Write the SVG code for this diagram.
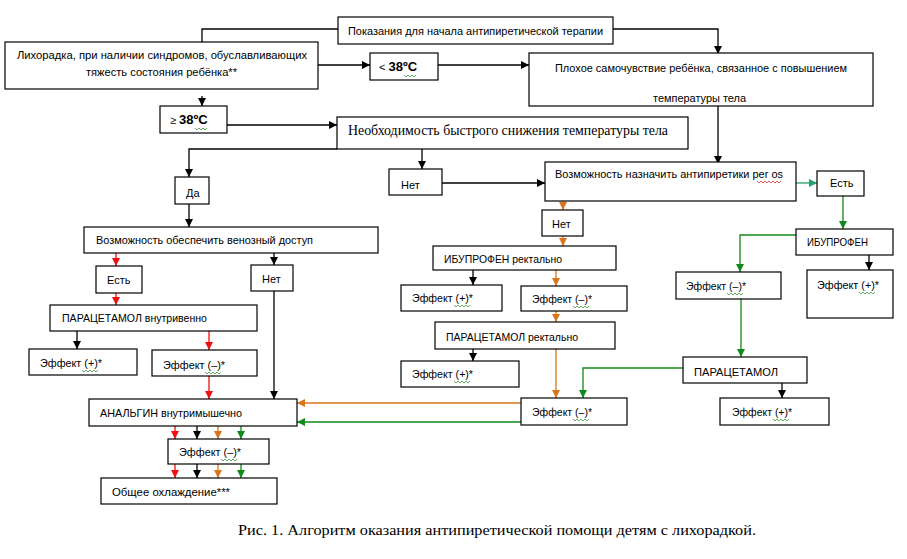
<svg xmlns="http://www.w3.org/2000/svg" width="907" height="559" viewBox="0 0 907 559">
<style>
.b{fill:#fff;stroke:#000;stroke-width:1.2}
.t{font-family:"Liberation Sans",Arial,sans-serif;font-size:11px;fill:#000}
.s{font-family:"Liberation Serif","Times New Roman",serif;fill:#000}
.c{fill:none;stroke-width:1.3}
.k{stroke:#000}
.r{stroke:#f01010}
.o{stroke:#d9761c}
.g{stroke:#12891a}
.tl{stroke:#1fa46e}
.wv{fill:none;stroke-width:0.8}
</style>
<defs>
<marker id="ak" markerUnits="userSpaceOnUse" markerWidth="8" markerHeight="8" refX="8" refY="4" orient="auto"><path d="M0,0L8,4L0,8z" fill="#000"/></marker>
<marker id="ar" markerUnits="userSpaceOnUse" markerWidth="8" markerHeight="8" refX="8" refY="4" orient="auto"><path d="M0,0L8,4L0,8z" fill="#f01010"/></marker>
<marker id="ao" markerUnits="userSpaceOnUse" markerWidth="8" markerHeight="8" refX="8" refY="4" orient="auto"><path d="M0,0L8,4L0,8z" fill="#d9761c"/></marker>
<marker id="ag" markerUnits="userSpaceOnUse" markerWidth="8" markerHeight="8" refX="8" refY="4" orient="auto"><path d="M0,0L8,4L0,8z" fill="#12891a"/></marker>
<marker id="at" markerUnits="userSpaceOnUse" markerWidth="8" markerHeight="8" refX="8" refY="4" orient="auto"><path d="M0,0L8,4L0,8z" fill="#1fa46e"/></marker>
</defs>
<rect width="907" height="559" fill="#fff"/>

<g id="connectors">
<path class="c k" marker-end="url(#ak)" d="M338,29H202V51"/>
<path class="c k" marker-end="url(#ak)" d="M613,29H718V54"/>
<path class="c k" marker-end="url(#ak)" d="M318,65H370"/>
<path class="c k" marker-end="url(#ak)" d="M438,65H529"/>
<path class="c k" marker-end="url(#ak)" d="M202,96V106"/>
<path class="c k" marker-end="url(#ak)" d="M227,125H337"/>
<path class="c k" marker-end="url(#ak)" d="M337,149H189V177"/>
<path class="c k" marker-end="url(#ak)" d="M189,204V227"/>
<path class="c k" marker-end="url(#ak)" d="M274,253V265"/>
<path class="c k" marker-end="url(#ak)" d="M274,291V399"/>
<path class="c k" marker-end="url(#ak)" d="M77,331V349"/>
<path class="c k" marker-end="url(#ak)" d="M718,100V164"/>
<path class="c k" marker-end="url(#ak)" d="M422,149V169"/>
<path class="c k" marker-end="url(#ak)" d="M442,183H545"/>
<path class="c k" marker-end="url(#ak)" d="M869,255V270"/>
<path class="c k" marker-end="url(#ak)" d="M473,270V285"/>
<path class="c k" marker-end="url(#ak)" d="M473,349V361"/>
<path class="c k" marker-end="url(#ak)" d="M782,383V398"/>
<path class="c k" marker-end="url(#ak)" d="M197,426V439"/>
<path class="c k" marker-end="url(#ak)" d="M197,464V478"/>

<path class="c r" marker-end="url(#ar)" d="M116,253V266"/>
<path class="c r" marker-end="url(#ar)" d="M116,293V305"/>
<path class="c r" marker-end="url(#ar)" d="M209,331V350"/>
<path class="c r" marker-end="url(#ar)" d="M209,376V399"/>
<path class="c r" marker-end="url(#ar)" d="M175,426V439"/>
<path class="c r" marker-end="url(#ar)" d="M175,464V478"/>

<path class="c o" marker-end="url(#ao)" d="M563,201V210"/>
<path class="c o" marker-end="url(#ao)" d="M563,236V246"/>
<path class="c o" marker-end="url(#ao)" d="M556,270V286"/>
<path class="c o" marker-end="url(#ao)" d="M556,311V322"/>
<path class="c o" marker-end="url(#ao)" d="M556,349V398"/>
<path class="c o" marker-end="url(#ao)" d="M521,403H297"/>
<path class="c o" marker-end="url(#ao)" d="M218,426V439"/>
<path class="c o" marker-end="url(#ao)" d="M218,464V478"/>

<path class="c tl" marker-end="url(#at)" d="M796,183H817"/>
<path class="c g" marker-end="url(#ag)" d="M843,196V229"/>
<path class="c g" marker-end="url(#ag)" d="M796,235H740V272"/>
<path class="c g" marker-end="url(#ag)" d="M741,299V357"/>
<path class="c g" marker-end="url(#ag)" d="M683,368H583V398"/>
<path class="c g" marker-end="url(#ag)" d="M521,422H297"/>
<path class="c g" marker-end="url(#ag)" d="M241,426V439"/>
<path class="c g" marker-end="url(#ag)" d="M241,464V478"/>
</g>

<g id="n-pokaz"><rect class="b" x="338" y="17" width="275" height="27"/><text class="t" x="348" y="35" textLength="255" lengthAdjust="spacingAndGlyphs">Показания для начала антипиретической терапии</text></g>
<g id="n-lihor"><rect class="b" x="5" y="42" width="313" height="47"/><text class="t" x="17" y="59" textLength="290" lengthAdjust="spacingAndGlyphs">Лихорадка, при наличии синдромов, обуславливающих</text><text class="t" x="86" y="76" textLength="151" lengthAdjust="spacingAndGlyphs">тяжесть состояния ребёнка**</text></g>
<g id="n-lt38"><rect class="b" x="370" y="53" width="68" height="27"/><text class="t" x="379" y="71">&lt; <tspan font-weight="bold" font-size="13">38ºC</tspan></text><path class="wv" stroke="#3a9a3a" d="M404,75l2,2l2,-2l2,2l2,-2l2,2l2,-2"/></g>
<g id="n-ploh"><rect class="b" x="529" y="53" width="344" height="53"/><text class="t" x="555" y="72" textLength="292" lengthAdjust="spacingAndGlyphs">Плохое самочувствие ребёнка, связанное с повышением</text><text class="t" x="653" y="102" textLength="93" lengthAdjust="spacingAndGlyphs">температуры тела</text></g>
<g id="n-ge38"><rect class="b" x="160" y="106" width="67" height="27"/><text class="t" x="170" y="124">≥ <tspan font-weight="bold" font-size="13">38ºC</tspan></text><path class="wv" stroke="#3a9a3a" d="M195,128l2,2l2,-2l2,2l2,-2l2,2l2,-2"/></g>
<g id="n-neobh"><rect class="b" x="337" y="117" width="351" height="32"/><text class="s" x="348" y="135" font-size="15" textLength="320" lengthAdjust="spacingAndGlyphs">Необходимость быстрого снижения температуры тела</text></g>
<g id="n-da"><rect class="b" x="175" y="177" width="34" height="27"/><text class="t" x="186" y="197">Да</text></g>
<g id="n-venoz"><rect class="b" x="84" y="227" width="294" height="26"/><text class="t" x="96" y="244" textLength="217" lengthAdjust="spacingAndGlyphs">Возможность обеспечить венозный доступ</text></g>
<g id="n-est1"><rect class="b" x="96" y="266" width="46" height="27"/><text class="t" x="107" y="284">Есть</text></g>
<g id="n-net1"><rect class="b" x="251" y="265" width="42" height="26"/><text class="t" x="262" y="283">Нет</text></g>
<g id="n-pariv"><rect class="b" x="50" y="305" width="207" height="26"/><text class="t" x="62" y="322" textLength="145" lengthAdjust="spacingAndGlyphs">ПАРАЦЕТАМОЛ внутривенно</text></g>
<g id="n-eff1p"><rect class="b" x="29" y="349" width="108" height="26"/><text class="t" x="40" y="367" textLength="62" lengthAdjust="spacingAndGlyphs">Эффект (+)*</text><path class="wv" stroke="#3a9a3a" d="M82,370l2,2l2,-2l2,2l2,-2l2,2l2,-2l2,2l2,-2"/></g>
<g id="n-eff1m"><rect class="b" x="152" y="350" width="105" height="26"/><text class="t" x="163" y="369" textLength="62" lengthAdjust="spacingAndGlyphs">Эффект (–)*</text><path class="wv" stroke="#3a9a3a" d="M205,372l2,2l2,-2l2,2l2,-2l2,2l2,-2l2,2l2,-2"/></g>
<g id="n-analg"><rect class="b" x="89" y="399" width="208" height="27"/><text class="t" x="100" y="417" textLength="142" lengthAdjust="spacingAndGlyphs">АНАЛЬГИН внутримышечно</text></g>
<g id="n-eff2m"><rect class="b" x="168" y="439" width="101" height="25"/><text class="t" x="179" y="456" textLength="62" lengthAdjust="spacingAndGlyphs">Эффект (–)*</text><path class="wv" stroke="#3a9a3a" d="M221,459l2,2l2,-2l2,2l2,-2l2,2l2,-2l2,2l2,-2"/></g>
<g id="n-cool"><rect class="b" x="101" y="478" width="176" height="26"/><text class="t" x="112" y="496" textLength="118" lengthAdjust="spacingAndGlyphs">Общее охлаждение***</text></g>
<g id="n-net2"><rect class="b" x="389" y="169" width="53" height="26"/><text class="t" x="401" y="189">Нет</text></g>
<g id="n-peros"><rect class="b" x="545" y="162" width="251" height="39"/><text class="t" x="555" y="178" textLength="228" lengthAdjust="spacingAndGlyphs">Возможность назначить антипиретики per os</text><path class="wv" stroke="#e03030" d="M757,181l2,2l2,-2l2,2l2,-2l2,2l2,-2l2,2l2,-2l2,2l2,-2l2,2l2,-2"/></g>
<g id="n-est2"><rect class="b" x="817" y="171" width="47" height="25"/><text class="t" x="830" y="187">Есть</text></g>
<g id="n-net3"><rect class="b" x="542" y="210" width="41" height="26"/><text class="t" x="552" y="228">Нет</text></g>
<g id="n-ibur"><rect class="b" x="433" y="246" width="183" height="24"/><text class="t" x="444" y="263" textLength="118" lengthAdjust="spacingAndGlyphs">ИБУПРОФЕН ректально</text></g>
<g id="n-ibu"><rect class="b" x="796" y="229" width="97" height="26"/><text class="t" x="807" y="246" textLength="61" lengthAdjust="spacingAndGlyphs">ИБУПРОФЕН</text></g>
<g id="n-eff3p"><rect class="b" x="401" y="285" width="101" height="26"/><text class="t" x="412" y="302" textLength="61" lengthAdjust="spacingAndGlyphs">Эффект (+)*</text><path class="wv" stroke="#3a9a3a" d="M454,305l2,2l2,-2l2,2l2,-2l2,2l2,-2l2,2l2,-2"/></g>
<g id="n-eff3m"><rect class="b" x="521" y="286" width="106" height="25"/><text class="t" x="532" y="303" textLength="60" lengthAdjust="spacingAndGlyphs">Эффект (–)*</text><path class="wv" stroke="#3a9a3a" d="M573,306l2,2l2,-2l2,2l2,-2l2,2l2,-2l2,2l2,-2"/></g>
<g id="n-eff4m"><rect class="b" x="676" y="272" width="105" height="27"/><text class="t" x="686" y="290" textLength="60" lengthAdjust="spacingAndGlyphs">Эффект (–)*</text><path class="wv" stroke="#3a9a3a" d="M727,293l2,2l2,-2l2,2l2,-2l2,2l2,-2l2,2l2,-2"/></g>
<g id="n-eff4p"><rect class="b" x="807" y="270" width="86" height="48"/><text class="t" x="817" y="289" textLength="62" lengthAdjust="spacingAndGlyphs">Эффект (+)*</text><path class="wv" stroke="#3a9a3a" d="M859,292l2,2l2,-2l2,2l2,-2l2,2l2,-2l2,2l2,-2"/></g>
<g id="n-parr"><rect class="b" x="435" y="322" width="180" height="27"/><text class="t" x="446" y="341" textLength="132" lengthAdjust="spacingAndGlyphs">ПАРАЦЕТАМОЛ ректально</text></g>
<g id="n-eff5p"><rect class="b" x="401" y="361" width="118" height="26"/><text class="t" x="412" y="378" textLength="61" lengthAdjust="spacingAndGlyphs">Эффект (+)*</text><path class="wv" stroke="#3a9a3a" d="M454,381l2,2l2,-2l2,2l2,-2l2,2l2,-2l2,2l2,-2"/></g>
<g id="n-par"><rect class="b" x="683" y="357" width="124" height="26"/><text class="t" x="694" y="376" textLength="84" lengthAdjust="spacingAndGlyphs">ПАРАЦЕТАМОЛ</text></g>
<g id="n-eff5m"><rect class="b" x="521" y="398" width="106" height="27"/><text class="t" x="532" y="416" textLength="60" lengthAdjust="spacingAndGlyphs">Эффект (–)*</text><path class="wv" stroke="#3a9a3a" d="M573,419l2,2l2,-2l2,2l2,-2l2,2l2,-2l2,2l2,-2"/></g>
<g id="n-eff6p"><rect class="b" x="720" y="398" width="109" height="27"/><text class="t" x="732" y="416" textLength="60" lengthAdjust="spacingAndGlyphs">Эффект (+)*</text><path class="wv" stroke="#3a9a3a" d="M773,419l2,2l2,-2l2,2l2,-2l2,2l2,-2l2,2l2,-2"/></g>

<text id="caption" class="s" x="238" y="535" font-size="15" textLength="518" lengthAdjust="spacingAndGlyphs">Рис. 1. Алгоритм оказания антипиретической помощи детям с лихорадкой.</text>
</svg>
